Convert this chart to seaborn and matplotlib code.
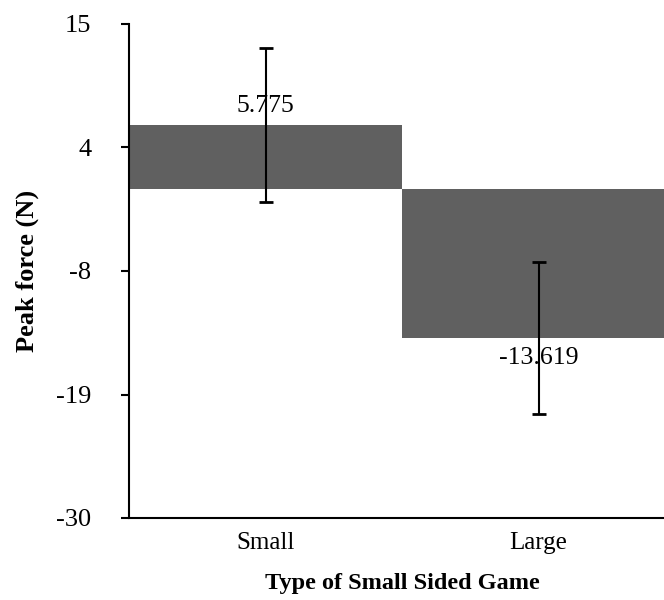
import numpy as np
import matplotlib
matplotlib.use('Agg')
import matplotlib.pyplot as plt
import seaborn as sns

# data
games = ['Small', 'Large']
peak_force = [5.775, -13.619]
peak_error = [7.0, 6.95]
ytick_values = [-30, -18.75, -7.5, 3.75, 15]
ytick_labels = ['-30', '-19', '-8', '4', '15']

sns.set_theme(style='white')
plt.rcParams['font.family'] = ['Liberation Serif', 'DejaVu Serif']
plt.rcParams['text.color'] = 'black'
plt.rcParams['axes.labelcolor'] = 'black'
plt.rcParams['xtick.color'] = 'black'
plt.rcParams['ytick.color'] = 'black'

fig = plt.figure(figsize=(6.64, 6.0), dpi=100)
ax = fig.add_axes([129 / 664, 1 - 518 / 600, 546 / 664, 494 / 600])

sns.barplot(x=games, y=peak_force, color='#606060', saturation=1,
            width=1.0, errorbar=None, ax=ax, linewidth=0)
ax.errorbar(range(len(games)), peak_force, yerr=peak_error, fmt='none',
            ecolor='black', elinewidth=1.5, capsize=5, capthick=2)

for cont in ax.containers:
    if hasattr(cont, 'patches') and len(cont.patches) == len(games):
        ax.bar_label(cont, labels=[f'{v:g}' for v in peak_force],
                     padding=6, fontsize=18.5, color='black')
        break

ax.set_xlim(-0.5, 1.5)
ax.set_ylim(-30, 15)
ax.set_yticks(ytick_values)
ax.set_yticklabels(ytick_labels)
ax.tick_params(axis='y', length=6, width=1.5, direction='out',
               labelsize=19, pad=21, left=True)
ax.tick_params(axis='x', length=0, labelsize=18, pad=10)

for side in ['top', 'right']:
    ax.spines[side].set_visible(False)
for side in ['left', 'bottom']:
    ax.spines[side].set_color('black')
    ax.spines[side].set_linewidth(1.5)

ax.set_xlabel('Type of Small Sided Game', fontsize=17.5,
              fontweight='bold', labelpad=14)
ax.set_ylabel('Peak force (N)', fontsize=19, fontweight='bold',
              labelpad=12)

fig.savefig('out.png', dpi=100, facecolor='white')
